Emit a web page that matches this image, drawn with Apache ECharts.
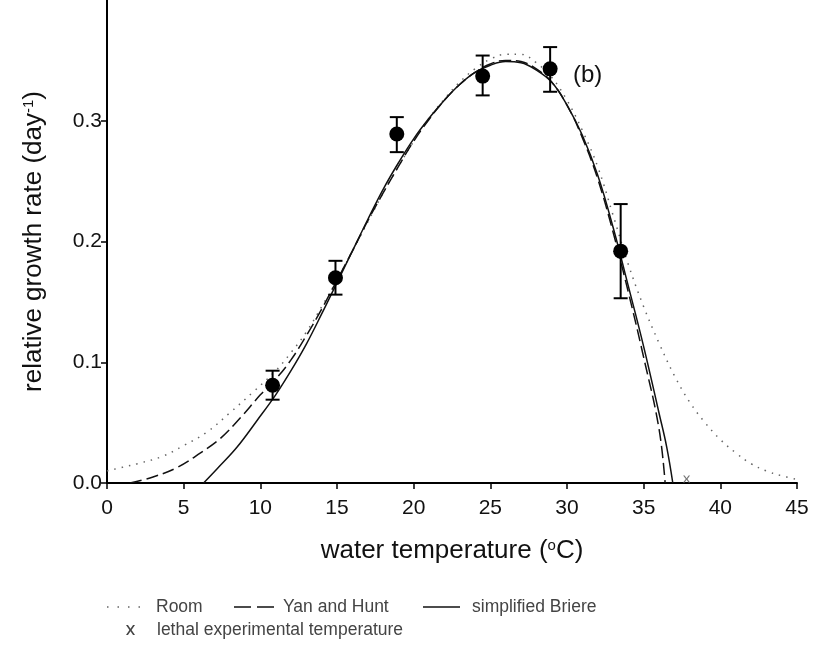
<!DOCTYPE html>
<html>
<head>
<meta charset="utf-8">
<script src="https://cdn.jsdelivr.net/npm/echarts@6/dist/echarts.min.js"></script>
<style>html,body{margin:0;padding:0;background:#fff}#c{width:813px;height:646px}</style>
</head>
<body>
<div id="c"></div>
<script>
// measured data points
const tempX   = [10.8, 14.9, 18.9, 24.5, 28.9, 33.5];
const rateY   = [0.081, 0.170, 0.289, 0.337, 0.343, 0.192];
const errLow  = [0.069, 0.156, 0.274, 0.321, 0.324, 0.153];
const errHigh = [0.093, 0.184, 0.303, 0.354, 0.361, 0.231];

// Room model (dotted)
const roomX = [0, 1, 2, 3.6, 5, 6.5, 8, 9.5, 11, 12, 13, 14, 15, 16, 17, 18, 19, 20, 21, 22, 23, 24, 25, 26, 27, 28, 29, 30, 31, 32, 33, 34, 35, 36, 37, 38, 39, 40, 41, 42, 43, 44, 45];
const roomY = [0.010, 0.013, 0.016, 0.022, 0.031, 0.042, 0.058, 0.075, 0.093, 0.108, 0.125, 0.146, 0.168, 0.192, 0.216, 0.240, 0.262, 0.283, 0.302, 0.318, 0.332, 0.343, 0.351, 0.355, 0.355, 0.348, 0.336, 0.317, 0.292, 0.262, 0.222, 0.181, 0.146, 0.116, 0.089, 0.067, 0.050, 0.036, 0.025, 0.016, 0.010, 0.006, 0.003];

// Yan and Hunt model (dashed)
const yanX = [1.5, 3, 4.6, 6.1, 7.4, 8.7, 10, 11, 12, 13, 14, 15, 16, 17, 18, 19, 20, 21, 22, 23, 24, 25, 26, 27, 28, 29, 30, 31, 32, 33, 34, 35, 36, 36.4];
const yanY = [0, 0.005, 0.013, 0.025, 0.037, 0.054, 0.073, 0.086, 0.102, 0.122, 0.144, 0.168, 0.192, 0.217, 0.240, 0.262, 0.283, 0.301, 0.317, 0.330, 0.340, 0.347, 0.350, 0.349, 0.343, 0.332, 0.313, 0.286, 0.252, 0.208, 0.158, 0.104, 0.045, 0];

// simplified Briere model (solid)
const briX = [6.3, 7.2, 8.5, 9.8, 11, 12, 13, 14, 15, 16, 17, 18, 19, 20, 21, 22, 23, 24, 25, 26, 27, 28, 29, 30, 31, 32, 33, 34, 35, 36, 36.5, 36.9];
const briY = [0, 0.012, 0.030, 0.052, 0.073, 0.093, 0.115, 0.140, 0.166, 0.192, 0.218, 0.243, 0.265, 0.285, 0.302, 0.317, 0.330, 0.340, 0.346, 0.349, 0.348, 0.342, 0.332, 0.313, 0.288, 0.255, 0.212, 0.163, 0.113, 0.058, 0.030, 0];

// lethal experimental temperature
const lethalX = [37.8];
const lethalY = [0];

const xTicks = [0, 5, 10, 15, 20, 25, 30, 35, 40, 45];
const yTicks = [0, 0.1, 0.2, 0.3];

const zip = (a, b) => a.map((v, i) => [v, b[i]]);
const font = '"Liberation Sans", Arial, Helvetica, sans-serif';
const xShape = 'path://M0,0L2.2,0L5,3.8L7.8,0L10,0L6.2,5L10,10L7.8,10L5,6.2L2.2,10L0,10L3.8,5Z';
const dotIcon = 'path://M0,0h1v1h-1zM7,0h1v1h-1zM14,0h1v1h-1zM21,0h1v1h-1z';
const dashIcon = 'path://M0,0h17v1h-17zM23,0h17v1h-17z';
const legText = {fontFamily: font, fontSize: 17.5, color: '#444'};
const supRich = {s: {fontFamily: font, fontSize: 15, color: '#111', verticalAlign: 'top', padding: [0, 0, 11, 0]}};

const chart = echarts.init(document.getElementById('c'), null, {renderer: 'canvas'});
chart.setOption({
  animation: false,
  backgroundColor: '#fff',
  grid: {left: 107, right: 16, top: 0, bottom: 163, containLabel: false},
  xAxis: {
    type: 'value', min: 0, max: 45, interval: 5,
    name: 'water temperature ({s|o}C)',
    nameLocation: 'middle', nameGap: 55,
    nameTextStyle: {fontFamily: font, fontSize: 26, color: '#111', rich: supRich},
    axisLine: {lineStyle: {color: '#000', width: 2}},
    axisTick: {show: true, length: 6, lineStyle: {color: '#000', width: 1.5}, customValues: xTicks},
    axisLabel: {fontFamily: font, fontSize: 21, color: '#111', margin: 15, customValues: xTicks},
    splitLine: {show: false}
  },
  yAxis: {
    type: 'value', min: 0, max: 0.4, interval: 0.1,
    name: 'relative growth rate (day{s|-1})',
    nameLocation: 'middle', nameGap: 60,
    nameTextStyle: {fontFamily: font, fontSize: 26, color: '#111', rich: supRich},
    axisLine: {lineStyle: {color: '#000', width: 2}},
    axisTick: {show: true, length: 6, lineStyle: {color: '#000', width: 1.5}, customValues: yTicks},
    axisLabel: {fontFamily: font, fontSize: 21, color: '#111', margin: 5, customValues: yTicks,
      formatter: v => v.toFixed(1)},
    splitLine: {show: false}
  },
  legend: [{
    data: [{name: 'Room', icon: dotIcon}],
    left: 102, top: 593, itemWidth: 33, itemHeight: 1.5, symbolKeepAspect: false,
    textStyle: Object.assign({padding: [0, 0, 0, 11]}, legText)
  }, {
    data: [{name: 'Yan and Hunt', icon: dashIcon}],
    left: 229, top: 593, itemWidth: 40, itemHeight: 1.5, symbolKeepAspect: false,
    textStyle: Object.assign({padding: [0, 0, 0, 4]}, legText)
  }, {
    data: [{name: 'simplified Briere', icon: 'rect'}],
    left: 418, top: 593, itemWidth: 37, itemHeight: 1.5, symbolKeepAspect: false,
    textStyle: Object.assign({padding: [0, 0, 0, 7]}, legText)
  }, {
    data: [{name: 'lethal experimental temperature', icon: xShape}],
    left: 121, top: 616, itemWidth: 9, itemHeight: 10, symbolKeepAspect: false,
    itemStyle: {color: '#444'},
    textStyle: Object.assign({padding: [0, 0, 0, 17]}, legText)
  }],
  graphic: [{
    type: 'text', left: 573, top: 63,
    style: {text: '(b)', font: '24px ' + font, fill: '#111'}
  }],
  series: [
    {
      name: 'Room', type: 'line', data: zip(roomX, roomY), smooth: 0.4,
      showSymbol: false, symbol: 'none',
      lineStyle: {color: '#666', width: 1.5, type: [1.5, 6]},
      itemStyle: {color: '#666'}
    },
    {
      name: 'Yan and Hunt', type: 'line', data: zip(yanX, yanY), smooth: 0.4,
      showSymbol: false, symbol: 'none',
      lineStyle: {color: '#111', width: 1.5, type: [12, 5]},
      itemStyle: {color: '#111'}
    },
    {
      name: 'simplified Briere', type: 'line', data: zip(briX, briY), smooth: 0.4,
      showSymbol: false, symbol: 'none',
      lineStyle: {color: '#111', width: 1.5, type: 'solid'},
      itemStyle: {color: '#111'}
    },
    {
      name: 'errorbars', type: 'custom',
      data: tempX.map((x, i) => [x, errLow[i], errHigh[i]]),
      renderItem: function (params, api) {
        const lo = api.coord([api.value(0), api.value(1)]);
        const hi = api.coord([api.value(0), api.value(2)]);
        const w = 7;
        const st = {stroke: '#000', lineWidth: 2};
        return {type: 'group', children: [
          {type: 'line', shape: {x1: lo[0], y1: lo[1], x2: hi[0], y2: hi[1]}, style: st},
          {type: 'line', shape: {x1: lo[0] - w, y1: lo[1], x2: lo[0] + w, y2: lo[1]}, style: st},
          {type: 'line', shape: {x1: hi[0] - w, y1: hi[1], x2: hi[0] + w, y2: hi[1]}, style: st}
        ]};
      },
      z: 5
    },
    {
      name: 'data', type: 'scatter', data: zip(tempX, rateY),
      symbol: 'circle', symbolSize: 15, itemStyle: {color: '#000', opacity: 1}, z: 6
    },
    {
      name: 'lethal experimental temperature', type: 'scatter', data: zip(lethalX, lethalY),
      symbol: xShape, symbolSize: 7, symbolOffset: [0, -4],
      itemStyle: {color: '#777', opacity: 1}, z: 6
    }
  ]
});
</script>
</body>
</html>
